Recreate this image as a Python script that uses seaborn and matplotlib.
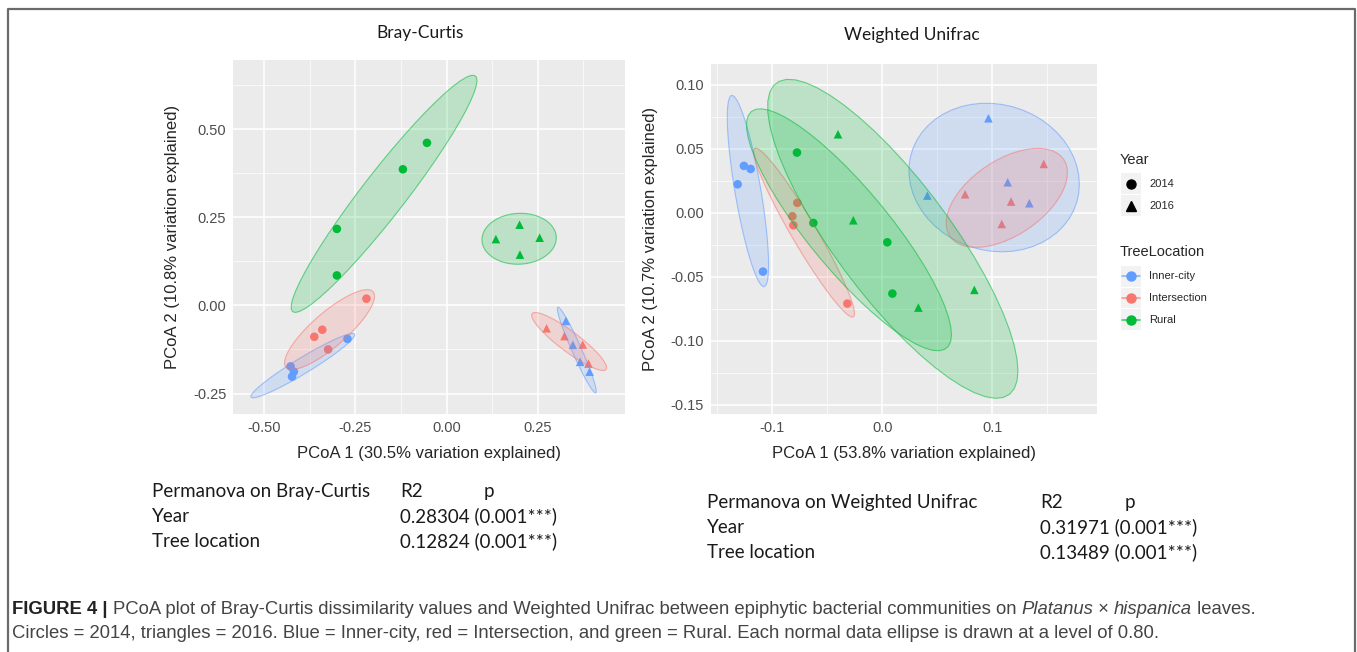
import numpy as np
import pandas as pd
import matplotlib
matplotlib.use("Agg")
import matplotlib.pyplot as plt
from matplotlib.patches import Rectangle, Polygon
from matplotlib.lines import Line2D
import seaborn as sns

# ---- sample metadata -------------------------------------------------------
location = (["Inner-city"] * 4 + ["Intersection"] * 4 + ["Rural"] * 4) * 2
year = ["2014"] * 12 + ["2016"] * 12

# ---- PCoA coordinates, Bray-Curtis ----------------------------------------
bray_pc1 = [-0.272, -0.428, -0.419, -0.424,      # Inner-city 2014
            -0.220, -0.341, -0.363, -0.325,      # Intersection 2014
            -0.301, -0.301, -0.120, -0.054,      # Rural 2014
            0.327, 0.346, 0.366, 0.392,          # Inner-city 2016
            0.274, 0.323, 0.373, 0.389,          # Intersection 2016
            0.135, 0.200, 0.255, 0.201]          # Rural 2016
bray_pc2 = [-0.095, -0.173, -0.188, -0.202,
            0.019, -0.069, -0.089, -0.125,
            0.217, 0.085, 0.386, 0.461,
            -0.044, -0.112, -0.160, -0.188,
            -0.065, -0.087, -0.111, -0.165,
            0.188, 0.229, 0.192, 0.144]

# ---- PCoA coordinates, Weighted Unifrac -----------------------------------
wu_pc1 = [-0.1315, -0.1258, -0.1197, -0.1085,
          -0.0773, -0.0818, -0.0809, -0.0318,
          -0.0776, -0.0627, 0.0045, 0.0091,
          0.0964, 0.0409, 0.1139, 0.1336,
          0.1467, 0.0752, 0.1170, 0.1085,
          -0.0403, -0.0264, 0.0327, 0.0836]
wu_pc2 = [0.0221, 0.0365, 0.0341, -0.0461,
          0.0076, -0.0029, -0.0099, -0.0711,
          0.0469, -0.0081, -0.0232, -0.0633,
          0.0737, 0.0133, 0.0237, 0.0073,
          0.0380, 0.0143, 0.0086, -0.0089,
          0.0612, -0.0060, -0.0742, -0.0604]

locations = ["Inner-city", "Intersection", "Rural"]
years = ["2014", "2016"]
palette = {"Inner-city": "#619CFF", "Intersection": "#F8766D", "Rural": "#00BA38"}
markers = {"2014": "o", "2016": "^"}

df = pd.DataFrame({"TreeLocation": location, "Year": year,
                   "bray1": bray_pc1, "bray2": bray_pc2,
                   "wu1": wu_pc1, "wu2": wu_pc2})

permanova_bray = [("Year", "0.28304 (0.001***)"), ("Tree location", "0.12824 (0.001***)")]
permanova_wu = [("Year", "0.31971 (0.001***)"), ("Tree location", "0.13489 (0.001***)")]


def cov_trob(X, nu=5, maxit=25, tol=0.01):
    """Robust multivariate-t scatter estimate (as MASS::cov.trob)."""
    n, p = X.shape
    wt = np.ones(n)
    loc = X.mean(axis=0)
    w = np.sqrt(wt)
    Xc = X - loc
    for _ in range(maxit):
        w0 = w
        Xc = X - loc
        M = np.sqrt(w / w.sum())[:, None] * Xc
        _, d, vt = np.linalg.svd(M, full_matrices=False)
        wX = Xc @ vt.T @ np.diag(1.0 / d)
        Q = (wX ** 2).sum(axis=1)
        w = wt * (nu + p) / (nu + Q)
        loc = (w[:, None] * X).sum(axis=0) / w.sum()
        if np.all(np.abs(w - w0) < tol):
            break
    S = np.sqrt(w)[:, None] * Xc
    return S.T @ S / wt.sum(), loc


def data_ellipse(x, y, level=0.80, segments=51):
    X = np.column_stack([x, y]).astype(float)
    n = len(X)
    cov, center = cov_trob(X)
    dfd = n - 1
    fq = dfd / 2.0 * ((1 - level) ** (-2.0 / dfd) - 1)   # qf(level, 2, dfd)
    radius = np.sqrt(2 * fq)
    L = np.linalg.cholesky(cov)
    ang = np.linspace(0, 2 * np.pi, segments + 1)
    circ = np.column_stack([np.cos(ang), np.sin(ang)])
    return center + radius * circ @ L.T


def gg_axes(ax, xlim, ylim, xmaj, ymaj, xfmt, yfmt):
    ax.set_facecolor("#EBEBEB")
    ax.set_xlim(*xlim)
    ax.set_ylim(*ylim)
    ax.set_xticks(xmaj)
    ax.set_yticks(ymaj)
    ax.set_xticklabels([xfmt.format(v) for v in xmaj])
    ax.set_yticklabels([yfmt.format(v) for v in ymaj])
    xs = np.diff(xmaj)[0] / 2
    ys = np.diff(ymaj)[0] / 2
    xmin = np.arange(xmaj[0] - 3 * xs, xmaj[-1] + 3 * xs, 2 * xs)
    ymin = np.arange(ymaj[0] - 3 * ys, ymaj[-1] + 3 * ys, 2 * ys)
    for v in xmin:
        ax.axvline(v, color="white", lw=0.5, zorder=0.5)
    for v in ymin:
        ax.axhline(v, color="white", lw=0.5, zorder=0.5)
    for v in xmaj:
        ax.axvline(v, color="white", lw=1.1, zorder=0.6)
    for v in ymaj:
        ax.axhline(v, color="white", lw=1.1, zorder=0.6)
    ax.grid(False)
    for s in ax.spines.values():
        s.set_visible(False)
    ax.tick_params(axis="both", colors="#333333", labelcolor="#4D4D4D",
                   labelsize=10.5, length=3, width=0.8, pad=2)


def pcoa_panel(ax, xcol, ycol):
    sns.scatterplot(data=df, x=xcol, y=ycol, hue="TreeLocation", style="Year",
                    palette=palette, markers=markers, hue_order=locations,
                    style_order=years, s=38, linewidth=0, legend=False,
                    ax=ax, zorder=3)
    for loc in locations:
        for yr in years:
            sub = df[(df.TreeLocation == loc) & (df.Year == yr)]
            pts = data_ellipse(sub[xcol].values, sub[ycol].values)
            c = palette[loc]
            ax.add_patch(Polygon(pts, closed=True, facecolor=c, alpha=0.2,
                                 edgecolor="none", zorder=4))
            ax.add_patch(Polygon(pts, closed=True, facecolor="none",
                                 edgecolor=c, alpha=0.55, lw=0.8, zorder=4))


sns.set_theme(style="darkgrid")
plt.rcParams["font.family"] = ["Liberation Sans", "DejaVu Sans"]

W, H = 1357, 652
fig = plt.figure(figsize=(W / 100, H / 100), dpi=100)
fig.patch.set_facecolor("white")


def fx(px):
    return px / W


def fy(py):
    return 1 - py / H


# ---- left panel: Bray-Curtis ----------------------------------------------
ax1 = fig.add_axes([fx(233.3), fy(414), fx(625) - fx(233.3), fy(60) - fy(414)])
pcoa_panel(ax1, "bray1", "bray2")
gg_axes(ax1, (-0.585, 0.489), (-0.308, 0.696),
        [-0.50, -0.25, 0.00, 0.25], [-0.25, 0.00, 0.25, 0.50],
        "{:.2f}", "{:.2f}")
ax1.set_xlabel("PCoA 1 (30.5% variation explained)", fontsize=12, labelpad=8)
ax1.set_ylabel("PCoA 2 (10.8% variation explained)", fontsize=12, labelpad=9)

# ---- right panel: Weighted Unifrac ----------------------------------------
ax2 = fig.add_axes([fx(710.7), fy(414.3), fx(1096.7) - fx(710.7), fy(64) - fy(414.3)])
pcoa_panel(ax2, "wu1", "wu2")
gg_axes(ax2, (-0.156, 0.1948), (-0.1576, 0.1161),
        [-0.1, 0.0, 0.1], [-0.15, -0.10, -0.05, 0.00, 0.05, 0.10],
        "{:.1f}", "{:.2f}")
ax2.set_xlabel("PCoA 1 (53.8% variation explained)", fontsize=12, labelpad=8)
ax2.set_ylabel("PCoA 2 (10.7% variation explained)", fontsize=12, labelpad=9)

# ---- panel titles ---------------------------------------------------------
title_font = ["Lato", "DejaVu Sans"]
fig.text(fx(420), fy(33), "Bray-Curtis", ha="center", va="center",
         fontsize=12.5, family=title_font, color="#1a1a1a")
fig.text(fx(912), fy(35), "Weighted Unifrac", ha="center", va="center",
         fontsize=12.5, family=title_font, color="#1a1a1a")

# ---- legend ---------------------------------------------------------------
fig.text(fx(1120), fy(160), "Year", ha="left", va="center", fontsize=10.5)
for i, (yr, m) in enumerate(markers.items()):
    top = 173.3 + i * 22
    fig.patches.append(Rectangle((fx(1120.7), fy(top + 20.7)), fx(20.7), fy(0) - fy(20.7),
                                 transform=fig.transFigure, facecolor="#F2F2F2",
                                 edgecolor="none"))
    fig.lines.append(Line2D([fx(1131)], [fy(top + 10.3)], transform=fig.transFigure,
                            marker=m, color="black", markersize=6.5, linestyle="none"))
    fig.text(fx(1149), fy(top + 10.8), yr, ha="left", va="center", fontsize=8)

fig.text(fx(1120), fy(252), "TreeLocation", ha="left", va="center", fontsize=10.5)
for i, loc in enumerate(locations):
    top = 266 + i * 21.7
    c = palette[loc]
    fig.patches.append(Rectangle((fx(1120.7), fy(top + 20.7)), fx(20.7), fy(0) - fy(20.7),
                                 transform=fig.transFigure, facecolor="#F2F2F2",
                                 edgecolor="none"))
    fig.lines.append(Line2D([fx(1122), fx(1140)], [fy(top + 10.3)] * 2,
                            transform=fig.transFigure, color=c, lw=1.2, alpha=0.7))
    fig.lines.append(Line2D([fx(1131)], [fy(top + 10.3)], transform=fig.transFigure,
                            marker="o", color=c, markersize=6.5, linestyle="none"))
    fig.text(fx(1149), fy(top + 10.3), loc, ha="left", va="center", fontsize=8)

# ---- PERMANOVA tables -----------------------------------------------------
tab_font = ["Lato", "DejaVu Sans"]
tab_kw = dict(ha="left", va="baseline", fontsize=13.5, family=tab_font, color="#1a1a1a")
fig.text(fx(152), fy(497), "Permanova on Bray-Curtis", **tab_kw)
fig.text(fx(400), fy(497), "R2", **tab_kw)
fig.text(fx(484), fy(497), "p", **tab_kw)
for i, (lab, val) in enumerate(permanova_bray):
    fig.text(fx(152), fy(522 + 25 * i), lab, **tab_kw)
    fig.text(fx(400), fy(522 + 25 * i), val, **tab_kw)

fig.text(fx(707), fy(508), "Permanova on Weighted Unifrac", **tab_kw)
fig.text(fx(1040), fy(508), "R2", **tab_kw)
fig.text(fx(1125), fy(508), "p", **tab_kw)
for i, (lab, val) in enumerate(permanova_wu):
    fig.text(fx(707), fy(533 + 25 * i), lab, **tab_kw)
    fig.text(fx(1040), fy(533 + 25 * i), val, **tab_kw)

# ---- caption --------------------------------------------------------------
renderer = fig.canvas.get_renderer()


def text_run(x_px, y_px, parts, size=13.3):
    x = x_px
    for s, weight, style, col in parts:
        t = fig.text(fx(x), fy(y_px), s, ha="left", va="baseline", fontsize=size,
                     fontweight=weight, fontstyle=style, color=col)
        bb = t.get_window_extent(renderer=renderer)
        x += bb.width


cap = "#444444"
text_run(12, 614, [("FIGURE 4 | ", "bold", "normal", "#222222"),
                   ("PCoA plot of Bray-Curtis dissimilarity values and Weighted Unifrac "
                    "between epiphytic bacterial communities on ", "normal", "normal", cap),
                   ("Platanus", "normal", "italic", cap),
                   (" \u00d7 ", "normal", "normal", cap),
                   ("hispanica", "normal", "italic", cap),
                   (" leaves.", "normal", "normal", cap)])
text_run(12, 638, [("Circles = 2014, triangles = 2016. Blue = Inner-city, red = Intersection, "
                    "and green = Rural. Each normal data ellipse is drawn at a level of 0.80.",
                    "normal", "normal", cap)])

# ---- outer frame ----------------------------------------------------------
fig.lines.append(Line2D([fx(8), fx(8), fx(1355), fx(1355)], [fy(660), fy(9), fy(9), fy(660)],
                        transform=fig.transFigure, color="#6b6b6b", lw=1.6))

fig.savefig("out.png", dpi=100, facecolor="white")
